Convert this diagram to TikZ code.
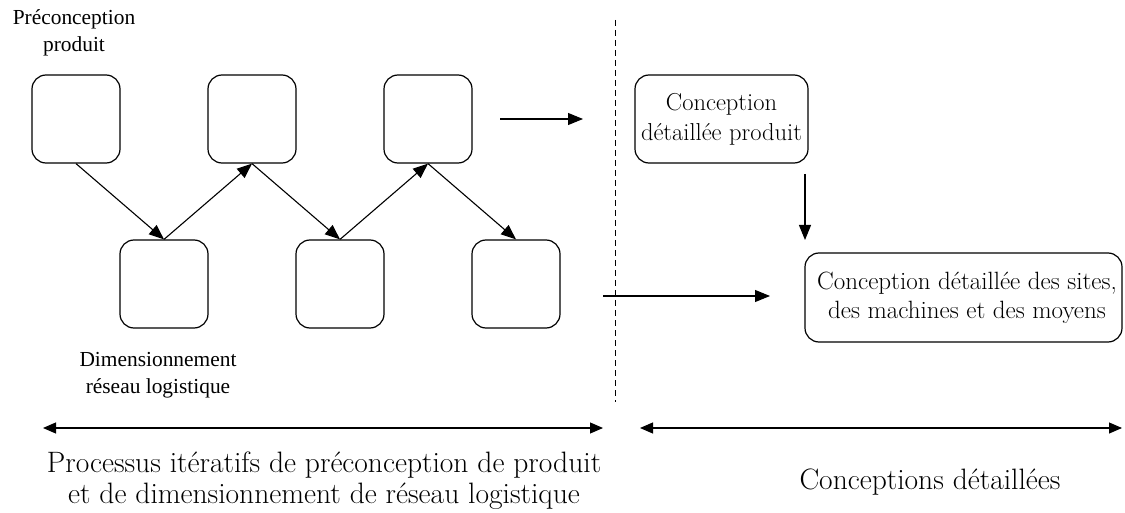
\documentclass[tikz,border=0pt]{standalone}
\usepackage{fontspec}
\newfontfamily\timesf{Liberation Serif}
\usetikzlibrary{arrows.meta}
\begin{document}
\begin{tikzpicture}[x=1pt,y=-1pt,
  sq/.style={draw,line width=1.2pt,rounded corners=14pt,minimum width=88pt,minimum height=88pt,inner sep=0pt},
  rbox/.style={draw,line width=1.2pt,rounded corners=14pt,inner sep=0pt,align=center},
  arr/.style={line width=1.1pt,-{Triangle[length=15pt,width=12pt]}},
  darr/.style={line width=1.1pt,{Triangle[length=13pt,width=11pt]}-{Triangle[length=13pt,width=11pt]}},
  small/.style={align=center,font=\timesf\fontsize{21.4}{27}\selectfont,inner sep=0pt},
  big/.style={align=center,font=\fontsize{29.5}{31}\selectfont,inner sep=0pt}]
\useasboundingbox (0,0) rectangle (1125,513);
\node[sq] (t1) at (76,119) {};
\node[sq] (t2) at (252,119) {};
\node[sq] (t3) at (428,119) {};
\node[sq] (b1) at (164,284) {};
\node[sq] (b2) at (340,284) {};
\node[sq] (b3) at (516,284) {};
\draw[arr] (t1.south) -- (b1.north);
\draw[arr] (b1.north) -- (t2.south);
\draw[arr] (t2.south) -- (b2.north);
\draw[arr] (b2.north) -- (t3.south);
\draw[arr] (t3.south) -- (b3.north);
\coordinate (a1) at (500,119);
\coordinate (a2) at (583,119);
\draw[arr] (a1) -- (a2);
\coordinate (d1) at (615,20);
\coordinate (d2) at (615,402);
\draw[line width=1pt,dash pattern=on 6pt off 4pt] (d1) -- (d2);
\coordinate (h1) at (603,296);
\coordinate (h2) at (770,296);
\draw[arr] (h1) -- (h2);
\node[rbox,minimum width=173pt,minimum height=88pt,font=\fontsize{24.5}{30}\selectfont] (r1) at (721.5,119) {Conception\\détaillée produit};
\coordinate (v1) at (805,174);
\coordinate (v2) at (805,240);
\draw[arr] (v1) -- (v2);
\node[draw,line width=1.2pt,rounded corners=14pt,minimum width=317pt,minimum height=89pt] (r2) at (963.5,297.5) {};
\node[rbox,draw=none,font=\fontsize{25}{29}\selectfont] (r2t) at (967,298) {Conception détaillée des sites,\\des machines et des moyens};
\node[small] (lp) at (74,33) {Préconception\\produit};
\node[small] (ld) at (158,375) {Dimensionnement\\réseau logistique};
\coordinate (l1) at (43,428);
\coordinate (l2) at (603,428);
\draw[darr] (l1) -- (l2);
\coordinate (m1) at (640,428);
\coordinate (m2) at (1122,428);
\draw[darr] (m1) -- (m2);
\node[big] (bl) at (324,481) {Processus itératifs de préconception de produit\\et de dimensionnement de réseau logistique};
\node[big] (br) at (930,482) {Conceptions détaillées};
\end{tikzpicture}
\end{document}
